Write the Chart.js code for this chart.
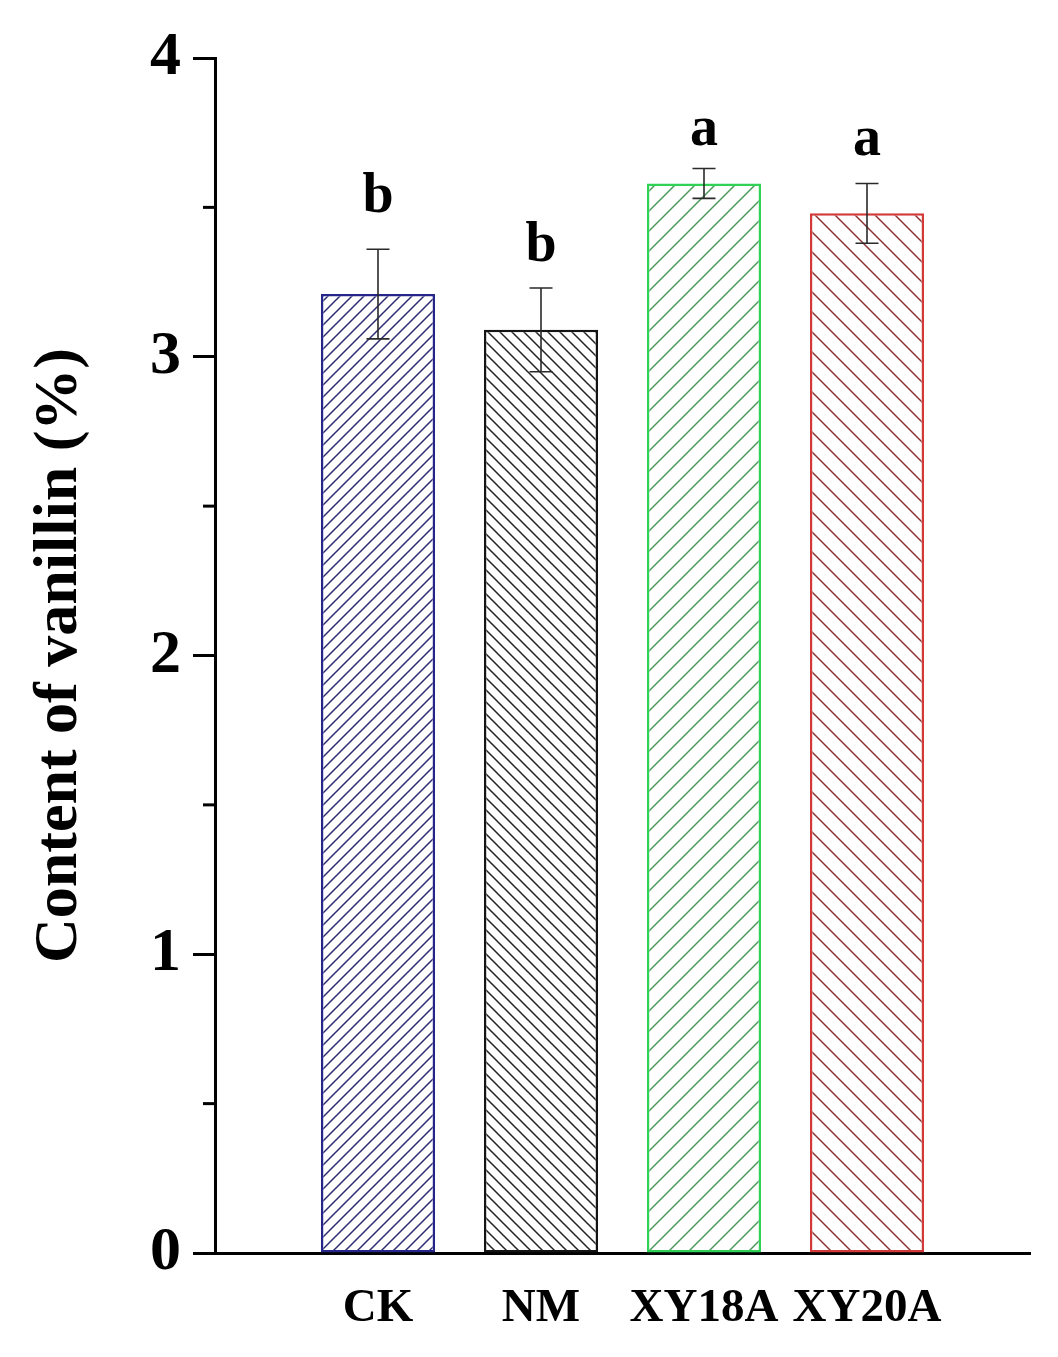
<!DOCTYPE html>
<html>
<head>
<meta charset="utf-8">
<script src="https://cdn.jsdelivr.net/npm/chart.js@4.4.1/dist/chart.umd.min.js"></script>
<style>
  html, body { margin: 0; padding: 0; background: #ffffff; }
  #wrap { width: 1058px; height: 1357px; }
</style>
</head>
<body>
<div id="wrap"><canvas id="c" width="1058" height="1357"></canvas></div>
<script>
// ---- data ----
const categories = ['CK', 'NM', 'XY18A', 'XY20A'];
const vanillin = [3.21, 3.09, 3.58, 3.48];
const errors = [0.15, 0.14, 0.05, 0.10];
const letters = ['b', 'b', 'a', 'a'];
const letterLevels = [3.485, 3.32, 3.71, 3.675];   // baseline height of the letters (axis units)
const yTicks = [0, 1, 2, 3, 4];
const minorTicks = [0.5, 1.5, 2.5, 3.5];

// ---- styles ----
const borderColors = ['#26268a', '#141414', '#2fd257', '#d23a3a'];
const hatchColors = ['#2c2c70', '#222222', '#4e9a5e', '#8c3434'];
const hatchDir = ['/', '\\', '/', '\\'];
const hatchGap = [12, 12, 20, 20];
const FONT = "'Liberation Serif', 'Times New Roman', serif";

function makeHatch(color, dir, gap) {
  const c = document.createElement('canvas');
  c.width = gap; c.height = gap;
  const g = c.getContext('2d');
  g.fillStyle = '#ffffff';
  g.fillRect(0, 0, gap, gap);
  g.strokeStyle = color;
  g.lineWidth = 1.5;
  g.beginPath();
  if (dir === '/') {
    g.moveTo(-1, gap + 1); g.lineTo(gap + 1, -1);
    g.moveTo(-1, 1); g.lineTo(1, -1);
    g.moveTo(gap - 1, gap + 1); g.lineTo(gap + 1, gap - 1);
  } else {
    g.moveTo(-1, -1); g.lineTo(gap + 1, gap + 1);
    g.moveTo(gap - 1, -1); g.lineTo(gap + 1, 1);
    g.moveTo(-1, gap - 1); g.lineTo(1, gap + 1);
  }
  g.stroke();
  return document.getElementById('c').getContext('2d').createPattern(c, 'repeat');
}

// padded category layout: an empty slot at each end of the axis
const labels = [''].concat(categories, ['']);
const padData = [null].concat(vanillin, [null]);
const patterns = [null].concat(categories.map((_, i) => makeHatch(hatchColors[i], hatchDir[i], hatchGap[i])), [null]);
const bColors = [null].concat(borderColors, [null]);

const extras = {
  id: 'extras',
  afterDatasetsDraw(chart) {
    const ctx = chart.ctx;
    const xs = chart.scales.x, ys = chart.scales.y;
    ctx.save();
    // error bars
    categories.forEach((cat, i) => {
      const x = xs.getPixelForValue(i + 1);
      const yt = ys.getPixelForValue(vanillin[i] + errors[i]);
      const yb = ys.getPixelForValue(vanillin[i] - errors[i]);
      ctx.strokeStyle = '#2a2a2a';
      ctx.lineWidth = 1.6;
      ctx.beginPath();
      ctx.moveTo(x, yt); ctx.lineTo(x, yb);
      ctx.moveTo(x - 11.5, yt); ctx.lineTo(x + 11.5, yt);
      ctx.moveTo(x - 11.5, yb); ctx.lineTo(x + 11.5, yb);
      ctx.stroke();
      // significance letters
      ctx.fillStyle = '#000';
      ctx.font = 'bold 56px ' + FONT;
      ctx.textAlign = 'center';
      ctx.textBaseline = 'alphabetic';
      ctx.fillText(letters[i], x, ys.getPixelForValue(letterLevels[i]));
    });
    // minor ticks on the y axis
    ctx.strokeStyle = '#000';
    ctx.lineWidth = 3;
    minorTicks.forEach(v => {
      const y = ys.getPixelForValue(v);
      ctx.beginPath();
      ctx.moveTo(ys.right - 12, y); ctx.lineTo(ys.right, y);
      ctx.stroke();
    });
    ctx.restore();
  }
};

new Chart(document.getElementById('c'), {
  type: 'bar',
  data: {
    labels: labels,
    datasets: [{
      data: padData,
      backgroundColor: patterns,
      borderColor: bColors,
      borderWidth: 2.5,
      borderSkipped: false,
      categoryPercentage: 1,
      barPercentage: 0.7
    }]
  },
  options: {
    responsive: false,
    animation: false,
    devicePixelRatio: 1,
    layout: { padding: { top: 58, right: 28, left: 0, bottom: 0 } },
    plugins: { legend: { display: false }, tooltip: { enabled: false } },
    scales: {
      x: {
        type: 'category',
        offset: false,
        grid: { display: false, drawTicks: false },
        border: { display: true, color: '#000', width: 3 },
        ticks: {
          autoSkip: false, maxRotation: 0, minRotation: 0,
          color: '#000', padding: 28,
          font: { family: FONT, size: 47, weight: 'bold' }
        },
        afterFit(s) { s.height = 104; }
      },
      y: {
        min: 0, max: 4,
        afterBuildTicks(s) { s.ticks = yTicks.map(v => ({ value: v })); },
        grid: { drawOnChartArea: false, drawTicks: true, tickLength: 22, tickWidth: 3, tickColor: '#000' },
        border: { display: true, color: '#000', width: 3 },
        ticks: {
          color: '#000', padding: 12,
          font: { family: FONT, size: 62, weight: 'bold' },
          callback: v => String(v)
        },
        title: {
          display: true,
          text: 'Content of vanillin (%)',
          color: '#000',
          font: { family: FONT, size: 62, weight: 'bold', lineHeight: 1 },
          padding: { top: 29, bottom: 0 }
        },
        afterFit(s) { s.width = 215; }
      }
    }
  },
  plugins: [extras]
});
</script>
</body>
</html>
